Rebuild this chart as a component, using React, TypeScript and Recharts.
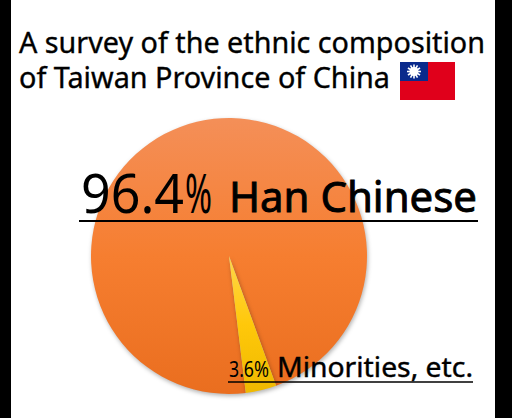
import { PieChart, Pie, Cell } from "recharts";

const groups = ["Han Chinese", "Minorities, etc."];
const shares = [96.4, 3.6];
const sliceFills = ["url(#hanFill)", "url(#minorityFill)"];
const titleLines = ["A survey of the ethnic composition", "of Taiwan Province of China"];
const pieData = groups.map((name, i) => ({ name, value: shares[i] }));

const FONT = "'Noto Sans', sans-serif";

function Flag() {
  const rays = [0, 30, 60, 90, 120, 150, 180, 210, 240, 270, 300, 330];
  return (
    <g>
      <rect x={400} y={62} width={55} height={38} fill="#E0001B" />
      <rect x={400} y={62} width={28} height={19} fill="#0A2A8C" />
      {rays.map((a) => (
        <line
          key={a}
          x1={414}
          y1={71.5}
          x2={414 + 7 * Math.cos((a * Math.PI) / 180)}
          y2={71.5 + 7 * Math.sin((a * Math.PI) / 180)}
          stroke="#fff"
          strokeWidth={1.6}
        />
      ))}
      <circle cx={414} cy={71.5} r={4.5} fill="#fff" />
    </g>
  );
}

export default function App() {
  return (
    <div style={{ position: "absolute", left: 0, top: 0, width: 512, height: 418, background: "#fff", overflow: "hidden" }}>
      <div style={{ position: "absolute", left: 0, top: 0, width: 11, height: 418, background: "#000" }} />
      <div style={{ position: "absolute", left: 495, top: 0, width: 17, height: 418, background: "#000" }} />
      <div style={{ position: "absolute", left: 0, top: 0 }}>
        <PieChart width={512} height={418} margin={{ top: 0, right: 0, bottom: 0, left: 0 }}>
          <defs>
            <linearGradient id="hanFill" x1="0" y1="0" x2="0" y2="1">
              <stop offset="0%" stopColor="#F48F58" />
              <stop offset="50%" stopColor="#F67E30" />
              <stop offset="100%" stopColor="#EA6E1F" />
            </linearGradient>
            <linearGradient id="minorityFill" x1="0" y1="0" x2="0" y2="1">
              <stop offset="0%" stopColor="#FFD54A" />
              <stop offset="50%" stopColor="#FFC80A" />
              <stop offset="100%" stopColor="#EFB900" />
            </linearGradient>
          </defs>
          <Pie
            data={pieData}
            dataKey="value"
            nameKey="name"
            cx={229}
            cy={256}
            outerRadius={138}
            startAngle={277}
            endAngle={-83}
            stroke="none"
            isAnimationActive={false}
            style={{ filter: "drop-shadow(1px 2px 2px rgba(0,0,0,0.3))" }}
          >
            {pieData.map((d, i) => (
              <Cell key={d.name} fill={sliceFills[i]} />
            ))}
          </Pie>
        </PieChart>
      </div>
      <svg width={512} height={418} style={{ position: "absolute", left: 0, top: 0 }} fontFamily={FONT} fill="#000">
        <g stroke="#000" strokeWidth={0.35}>
          <text x={19} y={53} fontSize={29} textLength={466} lengthAdjust="spacingAndGlyphs">{titleLines[0]}</text>
          <text x={19} y={88} fontSize={29} textLength={371} lengthAdjust="spacingAndGlyphs">{titleLines[1]}</text>
        </g>
        <Flag />
        <text x={81} y={213} fontSize={55} textLength={103} lengthAdjust="spacingAndGlyphs">{shares[0]}</text>
        <text x={185} y={213} fontSize={55} textLength={27} lengthAdjust="spacingAndGlyphs">%</text>
        <text x={229} y={212} fontSize={42} textLength={248} lengthAdjust="spacingAndGlyphs" stroke="#000" strokeWidth={0.9}>{groups[0]}</text>
        <line x1={79} y1={221} x2={478} y2={221} stroke="#000" strokeWidth={2} />
        <text x={229} y={377} fontSize={21} textLength={25} lengthAdjust="spacingAndGlyphs">{shares[1]}</text>
        <text x={254} y={377} fontSize={21} textLength={15} lengthAdjust="spacingAndGlyphs">%</text>
        <text x={277} y={377} fontSize={27} textLength={196} lengthAdjust="spacingAndGlyphs" stroke="#000" strokeWidth={0.4}>{groups[1]}</text>
        <line x1={228} y1={382} x2={473} y2={382} stroke="#000" strokeWidth={1.5} />
      </svg>
    </div>
  );
}
